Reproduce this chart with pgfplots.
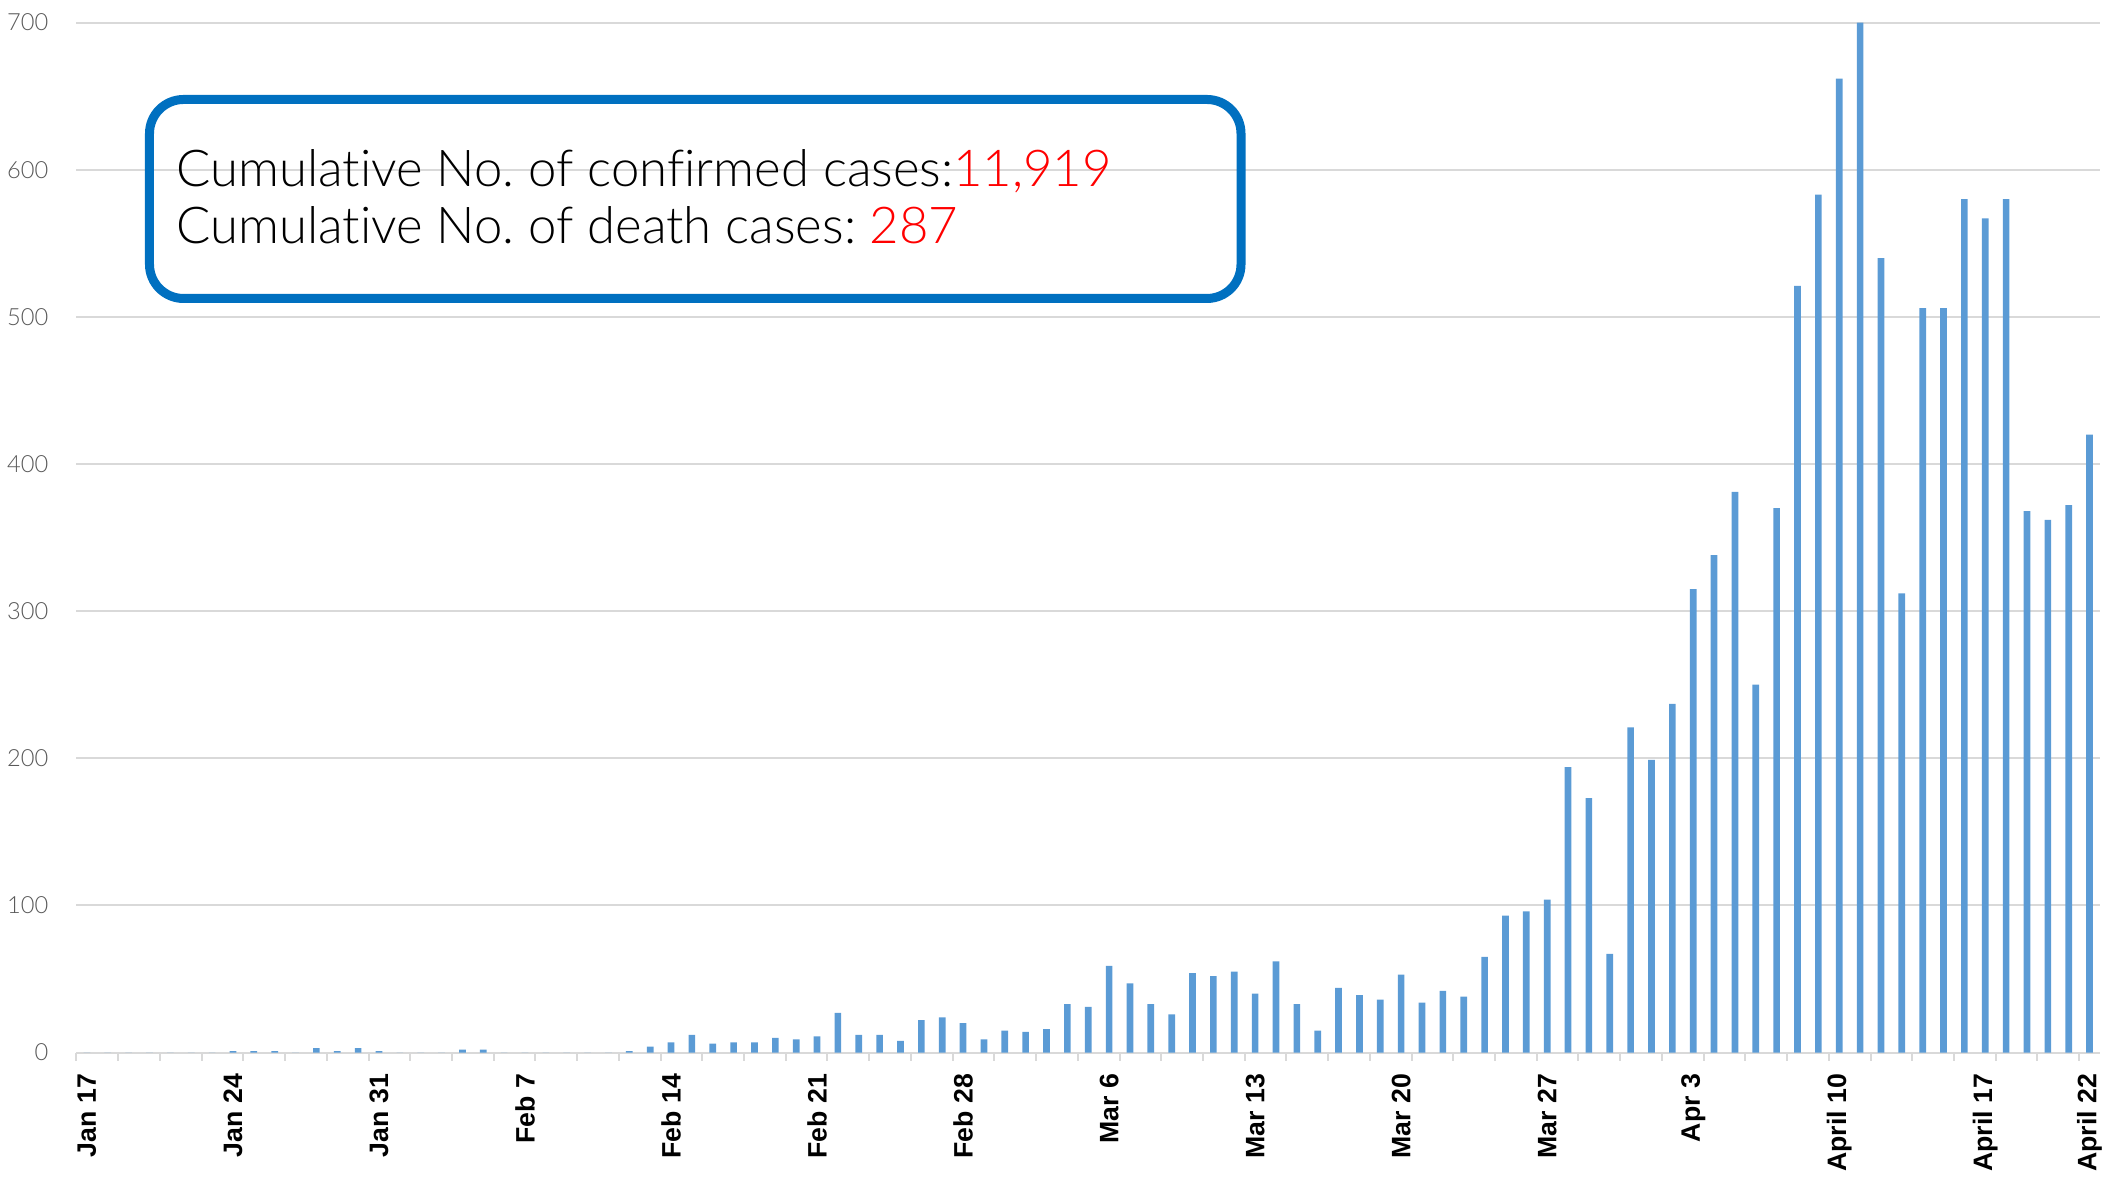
\documentclass[border=0pt]{standalone}
\usepackage{pgfplots}
\usepackage{pgfplotstable}
\pgfplotsset{compat=1.18}
\usepackage{fontspec}
\newfontfamily\boxfont{Lato}[UprightFont=* Light, Ligatures={NoCommon}]
\newfontfamily\labfont{Liberation Sans}
\definecolor{barblue}{HTML}{5B9BD5}
\definecolor{gridgray}{HTML}{D9D9D9}
\definecolor{ticklab}{HTML}{595959}
\definecolor{boxblue}{HTML}{0070C0}
\definecolor{numred}{HTML}{FF0000}
\frenchspacing

\pgfplotstableread{
day val
0 0
1 0
2 0
3 0
4 0
5 0
6 0
7 1
8 1
9 1
10 0
11 3
12 1
13 3
14 1
15 0
16 0
17 0
18 2
19 2
20 0
21 0
22 0
23 0
24 0
25 0
26 1
27 4
28 7
29 12
30 6
31 7
32 7
33 10
34 9
35 11
36 27
37 12
38 12
39 8
40 22
41 24
42 20
43 9
44 15
45 14
46 16
47 33
48 31
49 59
50 47
51 33
52 26
53 54
54 52
55 55
56 40
57 62
58 33
59 15
60 44
61 39
62 36
63 53
64 34
65 42
66 38
67 65
68 93
69 96
70 104
71 194
72 173
73 67
74 221
75 199
76 237
77 315
78 338
79 381
80 250
81 370
82 521
83 583
84 662
85 700
86 540
87 312
88 506
89 506
90 580
91 567
92 580
93 368
94 362
95 372
96 420
}\datatable

\begin{document}
\begin{tikzpicture}
\begin{axis}[
  at={(0,0)}, anchor=south west,
  scale only axis,
  width=607.05pt, height=309pt,
  xmin=-0.5, xmax=96.5, ymin=0, ymax=700,
  ybar, bar width=2pt,
  axis lines*=left,
  y axis line style={draw=none},
  x axis line style={gridgray, line width=0.6pt},
  ytick={0,100,...,700},
  ytick style={draw=none},
  ymajorgrids,
  grid style={gridgray, line width=0.6pt},
  xtick={0,7,14,21,28,35,42,49,56,63,70,77,84,91,96},
  xticklabels={Jan 17,Jan 24,Jan 31,Feb 7,Feb 14,Feb 21,Feb 28,Mar 6,Mar 13,Mar 20,Mar 27,Apr 3,April 10,April 17,April 22},
  major x tick style={draw=none},
  minor xtick={-0.5,1.5,...,95.5},
  minor x tick style={gridgray, line width=0.6pt},
  minor tick length=2.4pt,
  major tick length=0pt,
  tick align=outside,
  xticklabel style={font=\labfont\bfseries\fontsize{8}{9}\selectfont, rotate=90, anchor=east, text=black},
  xticklabel shift=2.9pt,
  yticklabel style={font=\boxfont\fontsize{7.1}{8}\selectfont, text=ticklab},
  yticklabel shift=4.9pt,
  /pgf/number format/assume math mode=true,
]
\addplot[fill=barblue, draw=none] table[x=day,y=val]{\datatable};
\end{axis}
\begin{scope}[x=0.3pt,y=-0.3pt,shift={(-22.95pt,315.78pt)}]
\draw[boxblue, line width=2.7pt, rounded corners=10.2pt] (149.5,99.5) rectangle (1241,298.5);
\node[anchor=base west, inner sep=0pt, font=\boxfont\fontsize{15.25}{18}\selectfont] at (176,186.7) {Cumulative No. of confirmed cases:\textcolor{numred}{11,919}};
\node[anchor=base west, inner sep=0pt, font=\boxfont\fontsize{15.25}{18}\selectfont] at (176,243.4) {Cumulative No. of death cases: \textcolor{numred}{287}};
\end{scope}
\pgfresetboundingbox
\begin{scope}[x=0.3pt,y=-0.3pt,shift={(-22.95pt,315.78pt)}]
\useasboundingbox (0,0) rectangle (2114,1178);
\end{scope}
\end{tikzpicture}
\end{document}
